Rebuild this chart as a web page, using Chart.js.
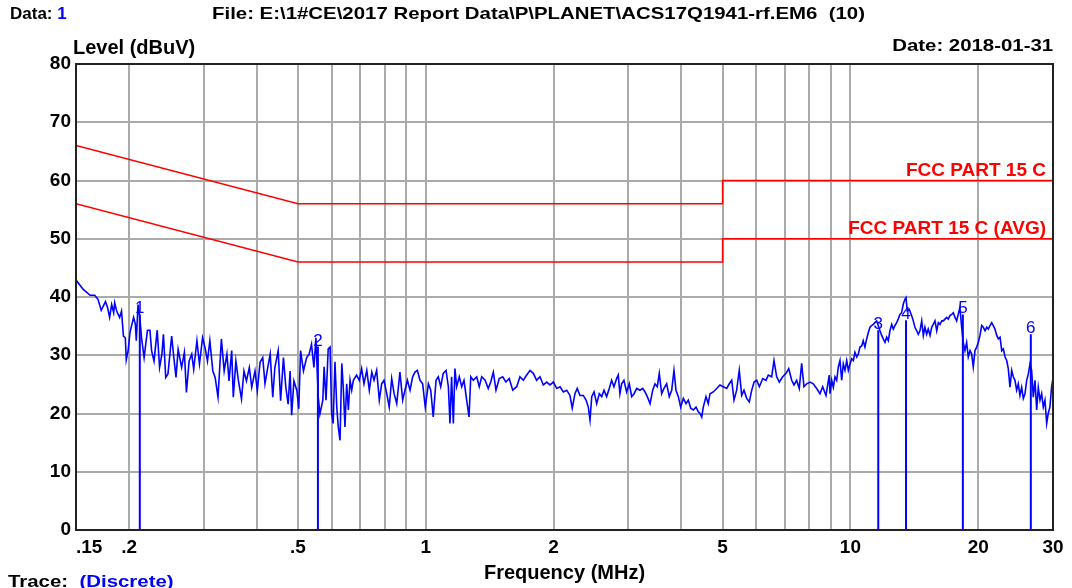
<!DOCTYPE html>
<html>
<head>
<meta charset="utf-8">
<script src="https://cdn.jsdelivr.net/npm/chart.js@4.4.1/dist/chart.umd.min.js"></script>
<style>
    body { margin: 0; background: #fff; }
    #wrap { position: relative; width: 1072px; height: 588px; overflow: hidden; font-family: 'Liberation Sans', Arial, sans-serif; font-weight: bold; color: #000; }
    #wrap div { position: absolute; white-space: pre; line-height: 1; }
    canvas { position: absolute; left: 0; top: 0; }
    .blue { color: #0000ff; }
    .wide { transform: scaleX(1.2); transform-origin: left top; }
    .wide-r { transform: scaleX(1.2); transform-origin: right top; }
</style>
</head>
<body>
<div id="wrap">
    <canvas id="emi-chart" width="1072" height="588"></canvas>
    <div style="left:10px; top:5px; font-size:17px;">Data: <span class="blue">1</span></div>
    <div class="wide" style="left:212px; top:5px; font-size:17px;">File: E:\1#CE\2017 Report Data\P\PLANET\ACS17Q1941-rf.EM6  (10)</div>
    <div class="wide-r" style="right:19px; top:37px; font-size:17px;">Date: 2018-01-31</div>
    <div style="left:73px; top:37px; font-size:20px;">Level (dBuV)</div>
    <div style="left:0; width:1129px; text-align:center; top:562px; font-size:20px;">Frequency (MHz)</div>
    <div class="wide" style="left:8px; top:573px; font-size:17px;">Trace:  <span class="blue">(Discrete)</span></div>
</div>
<script>
// measured trace, frequency in MHz / level in dBuV
const traceFreq = [
    0.150, 0.156, 0.162, 0.166, 0.169, 0.172, 0.176, 0.178, 0.180, 0.182,
    0.184, 0.185, 0.187, 0.190, 0.192, 0.194, 0.196, 0.197, 0.199, 0.201,
    0.205, 0.207, 0.208, 0.210, 0.212, 0.214, 0.217, 0.221, 0.224, 0.226,
    0.229, 0.233, 0.236, 0.239, 0.241, 0.244, 0.247, 0.252, 0.255, 0.258,
    0.261, 0.266, 0.270, 0.273, 0.277, 0.281, 0.284, 0.289, 0.293, 0.298,
    0.302, 0.306, 0.310, 0.315, 0.319, 0.324, 0.330, 0.335, 0.340, 0.344,
    0.349, 0.352, 0.357, 0.362, 0.368, 0.373, 0.378, 0.384, 0.389, 0.396,
    0.401, 0.407, 0.413, 0.418, 0.423, 0.430, 0.436, 0.441, 0.449, 0.455,
    0.462, 0.468, 0.474, 0.479, 0.483, 0.489, 0.497, 0.502, 0.507, 0.515,
    0.524, 0.531, 0.538, 0.545, 0.551, 0.558, 0.563,
    0.572, 0.576, 0.582, 0.589, 0.595, 0.600, 0.605, 0.611, 0.617, 0.622,
    0.628, 0.634, 0.639, 0.645, 0.651, 0.657, 0.663, 0.669, 0.675, 0.687,
    0.697, 0.706, 0.715, 0.726, 0.736, 0.746, 0.755, 0.766, 0.777, 0.787,
    0.797, 0.809, 0.820, 0.831, 0.842, 0.854, 0.869, 0.882, 0.893, 0.905,
    0.918, 0.931, 0.943, 0.955, 0.969, 0.983, 0.997, 1.014, 1.027, 1.041,
    1.057, 1.070, 1.084, 1.099, 1.116, 1.130, 1.140, 1.150, 1.161, 1.171,
    1.182, 1.199, 1.215, 1.230, 1.248, 1.264, 1.276, 1.294, 1.318, 1.336,
    1.354, 1.379, 1.403, 1.422, 1.442, 1.463, 1.489, 1.517, 1.544, 1.572,
    1.602, 1.637, 1.666, 1.697, 1.728, 1.760, 1.791, 1.824, 1.857, 1.891,
    1.926, 1.961, 1.997, 2.034, 2.071, 2.108, 2.147, 2.185, 2.212, 2.245,
    2.273, 2.307,
    2.349, 2.384, 2.414, 2.436, 2.459, 2.490, 2.526, 2.562, 2.596, 2.628,
    2.666, 2.704, 2.739, 2.774, 2.814, 2.839, 2.865, 2.892, 2.928, 2.971,
    3.014, 3.054, 3.093, 3.138, 3.195, 3.242, 3.283, 3.324, 3.374, 3.423,
    3.465, 3.509, 3.547, 3.593, 3.638, 3.692, 3.744, 3.794, 3.841, 3.883,
    3.932, 3.984, 4.041, 4.100, 4.151, 4.206, 4.265, 4.329, 4.383, 4.424,
    4.464, 4.503, 4.569, 4.626, 4.670, 4.753, 4.842, 4.929, 5.019, 5.112,
    5.184, 5.253, 5.319, 5.396, 5.473, 5.545, 5.615, 5.698, 5.779, 5.856,
    5.930, 6.017, 6.102, 6.216, 6.326, 6.406, 6.525, 6.607, 6.704, 6.800,
    6.927, 7.052, 7.155, 7.273, 7.364, 7.471, 7.577, 7.677, 7.773, 7.888,
    8.031, 8.175, 8.328, 8.478, 8.604, 8.759, 8.917,
    8.953, 9.036, 9.115, 9.199, 9.285, 9.364, 9.450, 9.537, 9.621, 9.711,
    9.801, 9.887, 9.978, 10.07, 10.16, 10.25, 10.35, 10.44, 10.53, 10.63,
    10.72, 10.82, 10.92, 11.02, 11.12, 11.22, 11.32, 11.42, 11.53, 11.63,
    11.74, 11.85, 11.95, 12.06, 12.17, 12.28, 12.39, 12.51, 12.62, 12.73,
    12.85, 12.96, 13.08, 13.20, 13.32, 13.44, 13.52, 13.61, 13.76, 13.94,
    14.06, 14.19, 14.33, 14.45, 14.58, 14.72, 14.85, 14.98, 15.12, 15.25,
    15.40, 15.54, 15.67, 15.82, 15.97, 16.11, 16.26, 16.41, 16.55, 16.70,
    16.85, 17.00, 17.16, 17.32, 17.47, 17.63, 17.79, 17.94, 18.11, 18.28,
    18.44, 18.61, 18.78, 18.95, 19.13, 19.30, 19.47, 19.65, 19.83, 20.01,
    20.19, 20.38, 20.56, 20.75, 20.94, 21.12, 21.32, 21.52, 21.70, 21.90,
    22.11, 22.30, 22.51, 22.72, 22.92, 23.13, 23.34, 23.54, 23.76, 23.98,
    24.19, 24.41, 24.63, 24.85, 25.08, 25.31, 25.54, 25.77, 26.01, 26.24,
    26.48, 26.72, 26.96, 27.21, 27.46, 27.70, 27.96, 28.21, 28.46, 28.72,
    28.99, 29.23, 29.50, 29.77, 29.94
];
const traceLevel = [
    42.9, 41.3, 40.3, 40.3, 39.6, 37.7, 39.2, 38.2, 36.5, 38.7,
    37.3, 39.0, 37.6, 36.5, 37.6, 33.3, 33.0, 29.2, 30.8, 33.9,
    36.5, 35.3, 32.5, 38.7, 36.5, 33.0, 29.6, 34.3, 34.3, 30.8,
    29.0, 34.3, 27.9, 30.2, 33.6, 26.2, 26.8, 33.3, 29.6, 26.2,
    31.0, 27.9, 30.5, 23.6, 29.0, 30.2, 27.6, 32.5, 28.5, 33.0,
    31.3, 29.0, 32.5, 27.3, 26.2, 22.8, 32.8, 27.3, 30.2, 25.6,
    30.8, 22.8, 29.0, 25.6, 22.5, 27.3, 25.6, 27.9, 24.5, 27.3,
    23.9, 28.8, 29.6, 25.1, 27.3, 30.2, 22.8, 27.9, 30.8, 22.2,
    29.6, 24.5, 21.6, 27.3, 19.7, 25.6, 23.9, 20.8, 30.8, 27.3,
    29.6, 30.2, 31.9, 27.9, 33.0, 22.8, 19.9,
    22.3, 28.0, 22.3, 31.1, 31.4, 20.0, 18.3, 28.9, 21.1, 17.7,
    15.4, 28.6, 24.6, 17.7, 25.1, 20.6, 25.7, 24.0, 25.7, 26.6,
    25.7, 27.7, 25.1, 27.4, 24.0, 27.1, 25.7, 27.4, 22.3, 25.1,
    25.7, 23.4, 21.1, 26.0, 23.4, 21.7, 27.1, 22.3, 24.0, 25.7,
    24.0, 26.3, 27.1, 27.4, 25.7, 25.1, 21.1, 25.1, 24.0, 19.4,
    25.7, 26.3, 24.6, 26.9, 27.4, 24.6, 18.3, 26.3, 18.3, 27.7,
    24.6, 26.3, 24.6, 25.7, 22.3, 19.4, 26.3, 25.7, 26.3, 24.6,
    26.3, 25.7, 24.3, 25.4, 27.1, 24.0, 26.0, 26.3, 25.4, 26.0,
    24.0, 24.6, 26.3, 25.7, 26.6, 27.4, 26.9, 25.7, 26.3, 24.9,
    25.4, 24.9, 25.4, 24.3, 24.6, 23.7, 24.0, 23.1, 20.9, 23.4,
    24.3, 23.1,
    23.1, 22.3, 21.1, 18.9, 22.9, 23.7, 21.7, 23.4, 22.9, 24.0,
    22.9, 24.3, 25.7, 24.6, 26.0, 26.6, 23.4, 25.1, 25.7, 23.7,
    25.1, 22.9, 23.4, 24.3, 24.0, 24.3, 23.7, 22.9, 21.7, 24.0,
    25.1, 24.6, 26.9, 23.4, 24.3, 25.1, 22.9, 24.0, 27.4, 24.0,
    22.9, 21.1, 22.6, 21.7, 22.3, 20.9, 20.6, 21.1, 20.3, 20.0,
    19.4, 21.1, 22.9, 21.7, 23.4, 23.7, 24.3, 24.9, 24.6, 24.3,
    25.1, 25.7, 22.3, 24.0, 27.4, 23.1, 24.0, 22.6, 22.0, 24.0,
    25.4, 25.7, 24.6, 26.0, 25.7, 26.6, 26.3, 29.1, 26.3, 25.4,
    26.3, 26.9, 27.7, 25.7, 24.9, 25.7, 24.3, 28.6, 24.6, 25.1,
    25.4, 25.1, 24.3, 23.4, 24.6, 23.1, 26.6,
    23.4, 25.7, 24.5, 26.3, 25.7, 28.0, 29.1, 25.7, 28.5, 27.4,
    29.1, 27.4, 28.5, 29.4, 29.1, 30.5, 29.7, 30.2, 31.4, 31.6,
    32.5, 31.4, 32.8, 33.9, 34.8, 35.1, 35.3, 35.6, 35.9, 35.1,
    34.2, 33.4, 32.8, 32.2, 33.1, 32.5, 34.2, 35.3, 34.5, 35.1,
    35.6, 36.2, 37.0, 37.3, 38.8, 39.6, 39.9, 37.6, 37.9, 36.8,
    35.9, 34.8, 34.2, 33.6, 34.2, 35.9, 33.4, 34.8, 33.6, 34.5,
    33.4, 34.8, 35.3, 35.9, 34.2, 35.6, 35.3, 35.9, 35.9, 36.2,
    36.5, 36.2, 36.8, 37.0, 37.3, 36.5, 35.9, 37.0, 38.2, 34.8,
    32.2, 30.8, 32.2, 29.7, 30.8, 30.2, 28.0, 30.8, 31.4, 32.2,
    33.4, 35.1, 34.8, 34.2, 34.8, 34.5, 35.1, 35.6, 35.1, 34.5,
    33.4, 32.8, 33.1, 30.8, 31.1, 29.7, 29.1, 27.7, 24.5, 27.4,
    26.3, 25.7, 24.0, 25.1, 23.1, 24.5, 22.6, 23.4, 25.7, 26.8,
    28.5, 27.4, 22.8, 25.7, 20.6, 24.5, 22.3, 23.4, 21.1, 22.3,
    18.3, 20.0, 21.1, 24.5, 25.7
];

// limit lines
const limitNames = ['FCC PART 15 C', 'FCC PART 15 C (AVG)'];
const qpLimitFreq = [0.15, 0.5, 5, 5, 30];
const qpLimitLevel = [66, 56, 56, 60, 60];
const avgLimitFreq = [0.15, 0.5, 5, 5, 30];
const avgLimitLevel = [56, 46, 46, 50, 50];

// markers
const markerNames = ['1', '2', '3', '4', '5', '6'];
const markerFreq = [0.212, 0.557, 11.63, 13.52, 18.4, 26.6];
const markerLevel = [37.0, 31.5, 34.3, 36.0, 37.0, 33.6];

// axes
const gridFreqs = [0.15, 0.2, 0.3, 0.4, 0.5, 0.6, 0.7, 0.8, 0.9, 1, 2, 3, 4, 5, 6, 7, 8, 9, 10, 20, 30];
const xTickValues = [0.15, 0.2, 0.5, 1, 2, 5, 10, 20, 30];
const xTickLabels = ['     .15', '.2', '.5', '1', '2', '5', '10', '20', '30'];
const yTicks = [0, 10, 20, 30, 40, 50, 60, 70, 80];

const fontFamily = "'Liberation Sans', Arial, sans-serif";

const toPoints = (xs, ys) => xs.map((x, i) => ({ x: x, y: ys[i] }));

const datasets = [
    {
        label: 'Trace',
        data: toPoints(traceFreq, traceLevel),
        borderColor: '#0000ff',
        borderWidth: 1.6,
        pointRadius: 0,
        tension: 0
    },
    {
        label: limitNames[0],
        data: toPoints(qpLimitFreq, qpLimitLevel),
        borderColor: '#ff0000',
        borderWidth: 1.5,
        pointRadius: 0
    },
    {
        label: limitNames[1],
        data: toPoints(avgLimitFreq, avgLimitLevel),
        borderColor: '#ff0000',
        borderWidth: 1.5,
        pointRadius: 0
    }
];

markerFreq.forEach((f, i) => {
    datasets.push({
        label: 'Marker ' + markerNames[i],
        data: [{ x: f, y: 0 }, { x: f, y: markerLevel[i] }],
        borderColor: '#0000ff',
        borderWidth: 2,
        pointRadius: 0
    });
});

// limit names, marker numbers and plot frame
const annotatePlugin = {
    id: 'annotate',
    afterDatasetsDraw(chart) {
        const { ctx, chartArea, scales } = chart;
        const xs = scales.x;
        const ys = scales.y;
        ctx.save();

        ctx.font = 'bold 19px ' + fontFamily;
        ctx.fillStyle = '#ff0000';
        ctx.textAlign = 'right';
        ctx.textBaseline = 'alphabetic';
        ctx.fillText(limitNames[0], chartArea.right - 7, ys.getPixelForValue(qpLimitLevel[qpLimitLevel.length - 1]) - 5);
        ctx.fillText(limitNames[1], chartArea.right - 7, ys.getPixelForValue(avgLimitLevel[avgLimitLevel.length - 1]) - 5);

        ctx.font = '17px ' + fontFamily;
        ctx.fillStyle = '#0000ff';
        ctx.textAlign = 'center';
        markerFreq.forEach((f, i) => {
            ctx.fillText(markerNames[i], xs.getPixelForValue(f), ys.getPixelForValue(markerLevel[i]) - 1);
        });

        ctx.strokeStyle = '#222';
        ctx.lineWidth = 2;
        ctx.strokeRect(chartArea.left, chartArea.top, chartArea.right - chartArea.left, chartArea.bottom - chartArea.top);
        ctx.restore();
    }
};

const ctx = document.getElementById('emi-chart').getContext('2d');

new Chart(ctx, {
    type: 'line',
    data: { datasets: datasets },
    options: {
        responsive: false,
        devicePixelRatio: 1,
        animation: false,
        layout: { padding: { top: 64, right: 19, bottom: 0, left: 0 } },
        plugins: {
            legend: { display: false },
            tooltip: { enabled: false }
        },
        scales: {
            x: {
                type: 'logarithmic',
                min: 0.15,
                max: 30,
                afterBuildTicks: (scale) => { scale.ticks = gridFreqs.map(v => ({ value: v })); },
                afterFit: (scale) => { scale.height = 58; },
                border: { display: false },
                grid: { color: '#aaaaaa', lineWidth: 2, drawTicks: false },
                ticks: {
                    autoSkip: false,
                    maxRotation: 0,
                    padding: 6,
                    color: '#000',
                    font: { family: fontFamily, size: 19, weight: 'bold' },
                    callback: (value) => {
                        const i = xTickValues.indexOf(value);
                        return i < 0 ? '' : xTickLabels[i];
                    }
                }
            },
            y: {
                min: 0,
                max: 80,
                afterBuildTicks: (scale) => { scale.ticks = yTicks.map(v => ({ value: v })); },
                afterFit: (scale) => { scale.width = 76; },
                border: { display: false },
                grid: { color: '#aaaaaa', lineWidth: 2, drawTicks: false },
                ticks: {
                    padding: 5,
                    color: '#000',
                    font: { family: fontFamily, size: 19, weight: 'bold' }
                }
            }
        }
    },
    plugins: [annotatePlugin]
});
</script>
</body>
</html>
